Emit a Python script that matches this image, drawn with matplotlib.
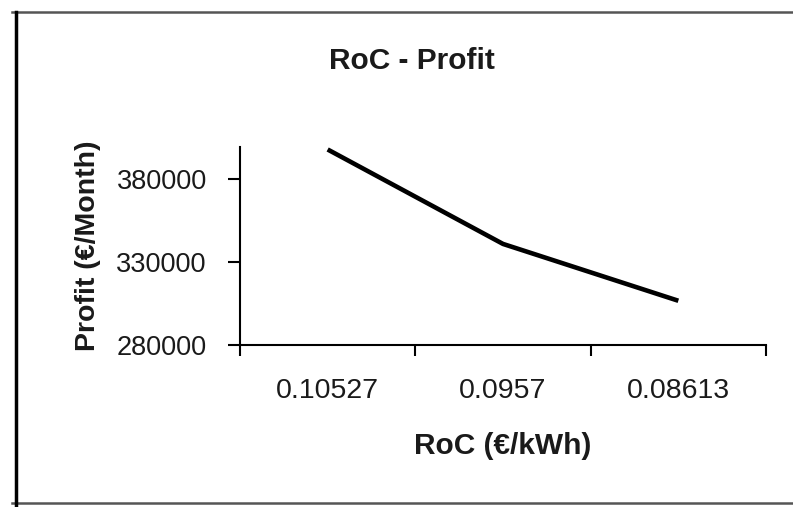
import matplotlib.pyplot as plt
from matplotlib.lines import Line2D

plt.rcParams['font.family'] = ['Liberation Sans', 'DejaVu Sans']

roc = ["0.10527", "0.0957", "0.08613"]
profit = [398000, 341000, 306700]
y_ticks = [280000, 330000, 380000]

fig = plt.figure(figsize=(7.93, 5.07), dpi=100)
ax = fig.add_axes([240 / 793, 1 - 345 / 507, 526 / 793, 198 / 507])

x = list(range(len(roc)))
ax.plot(x, profit, color="black", linewidth=3.3, solid_capstyle="butt")

ax.set_xlim(-0.5, len(roc) - 0.5)
ax.set_ylim(280000, 399500)

# category labels sit between the boundary ticks
ax.set_xticks([i - 0.5 for i in range(len(roc) + 1)])
ax.set_xticklabels([])
ax.set_xticks(x, minor=True)
ax.set_xticklabels(roc, minor=True)
ax.tick_params(axis="x", which="major", direction="out", length=8, width=1.5)
ax.tick_params(axis="x", which="minor", length=0, pad=24, labelsize=20.5,
               labelcolor="#1a1a1a")

ax.set_yticks(y_ticks)
ax.set_yticklabels([str(v) for v in y_ticks])
ax.tick_params(axis="y", direction="out", length=9, width=1.5, pad=15,
               labelsize=19.5, labelcolor="#1a1a1a")

for side in ["top", "right"]:
    ax.spines[side].set_visible(False)
for side in ["left", "bottom"]:
    ax.spines[side].set_linewidth(1.5)

ax.set_xlabel("RoC (€/kWh)", fontsize=21.5, fontweight="bold", color="#1a1a1a",
              labelpad=20)
ax.set_ylabel("Profit (€/Month)", fontsize=20.5, fontweight="bold",
              color="#1a1a1a", labelpad=11)

fig.text(412 / 793, 1 - 61 / 507, "RoC - Profit", fontsize=21.5,
         fontweight="bold", color="#1a1a1a", ha="center", va="center")

# outer chart frame
fig.add_artist(Line2D([12 / 793, 1], [1 - 12 / 507] * 2, color="#555555",
                      linewidth=1.8))
fig.add_artist(Line2D([12 / 793, 1], [1 - 503 / 507] * 2, color="#555555",
                      linewidth=1.8))
fig.add_artist(Line2D([16 / 793] * 2, [1 - 12 / 507, 1 - 505 / 507],
                      color="black", linewidth=2.5))

fig.savefig("out.png", dpi=100)
